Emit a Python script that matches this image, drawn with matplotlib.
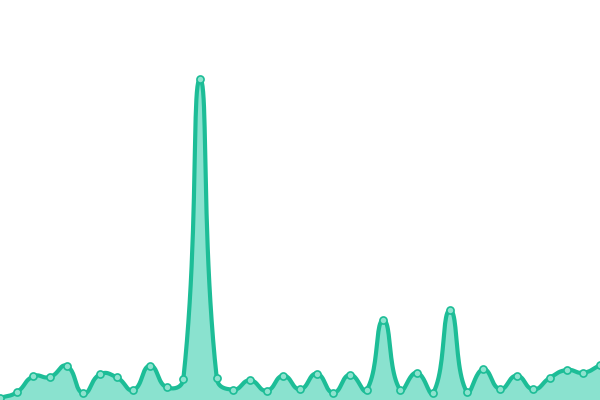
import matplotlib
matplotlib.use("Agg")
import matplotlib.pyplot as plt
import numpy as np

# values (one point per step)
values = [2, 7.7, 23.7, 23, 34, 6.7, 25.7, 22.7, 10, 34.3, 12.7, 21, 321,
          22.3, 10.3, 19.7, 9.3, 24.3, 10.7, 26.3, 7.3, 25.3, 10, 80, 10.3,
          27.3, 7.3, 90, 8.3, 30.7, 11, 24.3, 10.7, 22.3, 30, 27.3, 34.7]
steps = list(range(len(values)))

LINE = "#1dbd97"
FILL = "#8ae2cf"
MARK = "#8ee3cf"


def smooth_path(px, smooth=0.5, n=24):
    """Bezier smoothing like echarts (control points from neighbours)."""
    pts = np.asarray(px, dtype=float)
    out = []
    m = len(pts)
    cps = []
    for i in range(m):
        p = pts[i]
        prev = pts[i - 1] if i > 0 else p
        nxt = pts[i + 1] if i < m - 1 else p
        v = (nxt - prev) * smooth
        d0 = np.hypot(*(p - prev))
        d1 = np.hypot(*(p - nxt))
        s = d0 + d1
        if s == 0:
            cps.append((p, p))
            continue
        cps.append((p - v * d0 / s, p + v * d1 / s))
    t = np.linspace(0, 1, n)[:, None]
    for i in range(m - 1):
        p0 = pts[i]
        c1 = cps[i][1]
        c2 = cps[i + 1][0]
        p3 = pts[i + 1]
        seg = ((1 - t) ** 3) * p0 + 3 * ((1 - t) ** 2) * t * c1 \
            + 3 * (1 - t) * t ** 2 * c2 + t ** 3 * p3
        out.append(seg if i == 0 else seg[1:])
    return np.vstack(out)


fig = plt.figure(figsize=(6, 4), dpi=100)
ax = fig.add_axes([0, 0, 1, 1])
ax.set_xlim(0, len(values) - 1)
ax.set_ylim(0, 400)
ax.axis("off")

disp = ax.transData.transform(np.column_stack([steps, values]))
curve = ax.transData.inverted().transform(smooth_path(disp))

ax.fill_between(curve[:, 0], curve[:, 1], 0, color=FILL, lw=0, zorder=1)
ax.plot(curve[:, 0], curve[:, 1], color=LINE, lw=3, solid_capstyle="round",
        zorder=2)
ax.scatter(steps, values, s=26, facecolor=MARK, edgecolor=LINE, lw=1.2,
           zorder=3, clip_on=False)

fig.savefig("out.png", dpi=100)
